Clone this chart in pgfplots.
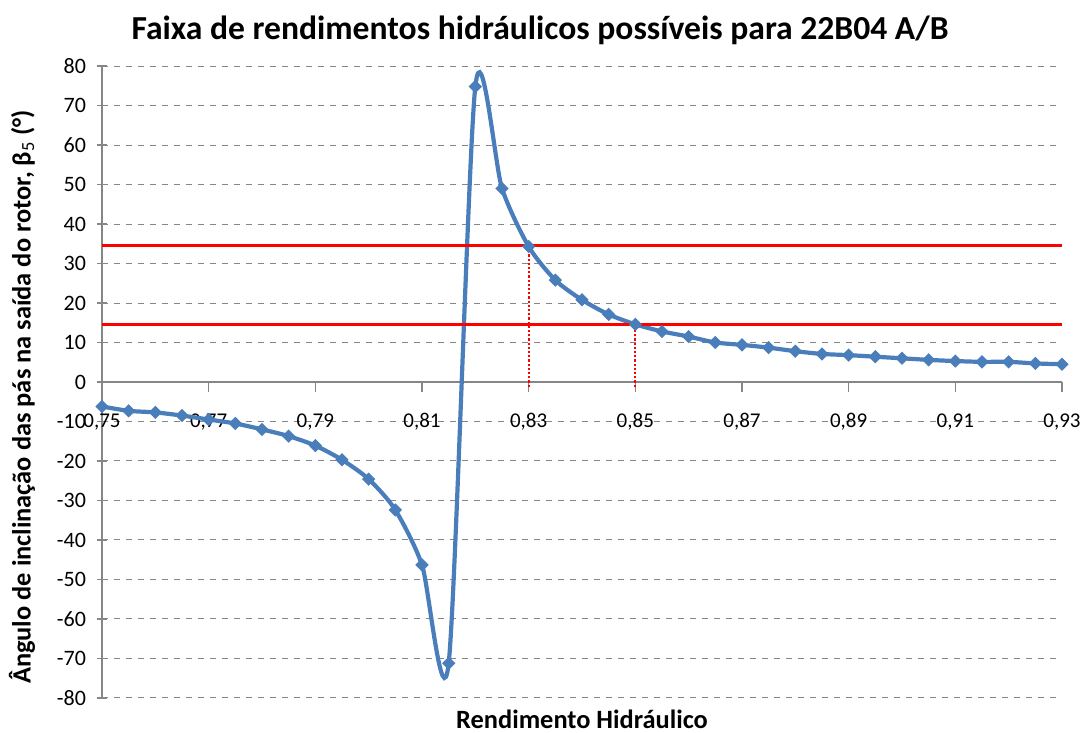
\documentclass[border=0pt]{standalone}
\usepackage{fontspec}
\setmainfont{Carlito}
\usepackage{pgfplots}
\pgfplotsset{compat=1.18}
\definecolor{excelblue}{RGB}{74,126,187}
\definecolor{gridgray}{RGB}{134,134,134}
\begin{document}
\begin{tikzpicture}
\begin{axis}[
  name=ax,
  scale only axis,
  width=480pt, height=316pt,
  xmin=0.75, xmax=0.93,
  ymin=-80, ymax=80,
  axis x line=middle,
  axis y line=left,
  hide obscured x ticks=false,
  hide obscured y ticks=false,
  axis line style={gridgray, line width=0.6pt, -},
  xtick={0.75,0.77,0.79,0.81,0.83,0.85,0.87,0.89,0.91,0.93},
  xticklabels={{0,75},{0,77},{0,79},{0,81},{0,83},{0,85},{0,87},{0,89},{0,91},{0,93}},
  ytick={-80,-70,...,80},
  yticklabels={-80,-70,-60,-50,-40,-30,-20,-10,0,10,20,30,40,50,60,70,80},
  tick style={gridgray, line width=0.6pt},
  xtick align=outside,
  ytick align=center,
  major tick length=5pt,
  xticklabel style={anchor=center, yshift=-15pt, font=\fontsize{10.5pt}{12pt}\selectfont},
  yticklabel style={anchor=east, xshift=-2pt, font=\fontsize{11pt}{13pt}\selectfont},
  ymajorgrids=true,
  major grid style={gridgray, dashed, line width=0.5pt},
  clip=false,
]
\addplot[color=excelblue, line width=2.1pt, smooth, tension=0.45,
  mark=square*, mark size=2.1pt, mark options={rotate=45, fill=excelblue, draw=excelblue, line width=0.5pt}]
coordinates {
(0.750,-6.2)(0.755,-7.3)(0.760,-7.7)(0.765,-8.5)(0.770,-9.5)(0.775,-10.5)
(0.780,-12.0)(0.785,-13.7)(0.790,-16.1)(0.795,-19.7)(0.800,-24.6)(0.805,-32.4)
(0.810,-46.3)(0.815,-71.2)(0.820,74.8)(0.825,49.0)(0.830,34.3)(0.835,25.8)
(0.840,20.8)(0.845,17.1)(0.850,14.6)(0.855,12.8)(0.860,11.5)(0.865,10.0)
(0.870,9.4)(0.875,8.7)(0.880,7.8)(0.885,7.1)(0.890,6.8)(0.895,6.4)
(0.900,6.0)(0.905,5.6)(0.910,5.3)(0.915,5.1)(0.920,5.1)(0.925,4.7)(0.930,4.5)
};
\addplot[red, line width=1.3pt] coordinates {(0.75,34.6)(0.93,34.6)};
\addplot[red, line width=1.3pt] coordinates {(0.75,14.6)(0.93,14.6)};
\addplot[red, line width=1.1pt, densely dotted] coordinates {(0.83,-1.2)(0.83,34.3)};
\addplot[red, line width=1.1pt, densely dotted] coordinates {(0.85,-1.2)(0.85,14.6)};
\end{axis}
\node[font=\fontsize{16.8pt}{20pt}\selectfont\bfseries, anchor=center] at ([shift={(219pt,18pt)}]ax.north west) {Faixa de rendimentos hidráulicos possíveis para 22B04 A/B};
\node[font=\fontsize{13.2pt}{15pt}\selectfont\bfseries, anchor=center] at ([shift={(0pt,-10.5pt)}]ax.south) {Rendimento Hidráulico};
\node[font=\fontsize{13.2pt}{15pt}\selectfont\bfseries, anchor=center, rotate=90] at ([shift={(-40pt,-7.5pt)}]ax.west) {Ângulo de inclinação das pás na saída do rotor, β\textsubscript{\mdseries 5} (°)};
\pgfresetboundingbox
\path (ax.south west) ++(-51pt,-17.5pt) rectangle ++(544pt,366.5pt);
\end{tikzpicture}
\end{document}
